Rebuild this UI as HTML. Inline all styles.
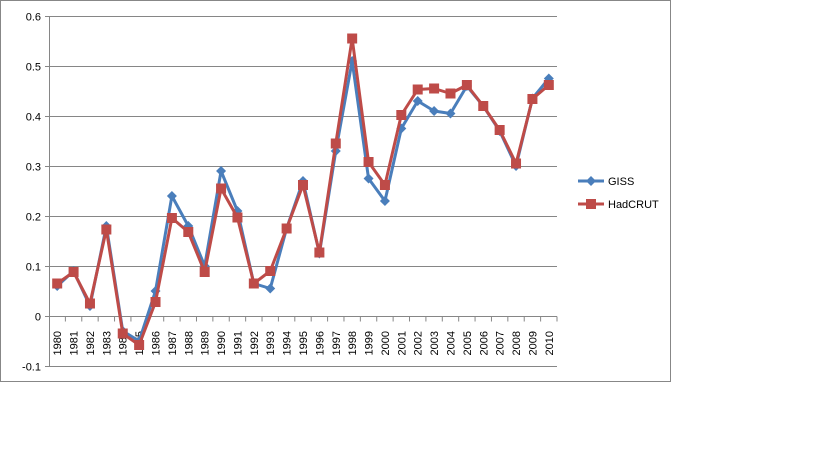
<!DOCTYPE html>
<html><head><meta charset="utf-8"><style>
body{margin:0;background:#fff;font-family:"Liberation Sans",sans-serif;}
svg text{font-family:"Liberation Sans",sans-serif;font-size:11px;fill:#000;}
</style></head><body>
<svg id="chart" width="819" height="460">
<rect x="0.5" y="0.5" width="670" height="381" fill="#fff" stroke="#878787"/>
<g id="grid"></g><g id="axes"></g><g id="series"></g>
<g>
 <g>
  <line x1="578" y1="181" x2="604" y2="181" stroke="#4A7EBB" stroke-width="3"/>
  <path d="M591 176 L596 181 L591 186 L586 181Z" fill="#4A7EBB"/>
  <text x="608" y="185">GISS</text></g>
 <g>
  <line x1="578" y1="204" x2="604" y2="204" stroke="#BE4B48" stroke-width="3"/>
  <rect x="586" y="199" width="10" height="10" fill="#BE4B48"/>
  <text x="608" y="208">HadCRUT</text></g>
</g>
</svg>
<script>
const years=[1980,1981,1982,1983,1984,1985,1986,1987,1988,1989,1990,1991,1992,1993,1994,1995,1996,1997,1998,1999,2000,2001,2002,2003,2004,2005,2006,2007,2008,2009,2010];
const giss=[0.06,0.09,0.02,0.18,-0.03,-0.05,0.05,0.24,0.18,0.10,0.29,0.21,0.065,0.055,0.175,0.27,0.125,0.33,0.51,0.275,0.23,0.375,0.43,0.41,0.405,0.46,0.42,0.37,0.30,0.435,0.475];
const hadcrut=[0.065,0.088,0.025,0.173,-0.035,-0.058,0.028,0.196,0.168,0.088,0.255,0.197,0.065,0.09,0.175,0.262,0.127,0.345,0.555,0.308,0.262,0.402,0.453,0.455,0.445,0.462,0.42,0.372,0.305,0.434,0.462];
const yTicks=[-0.1,0,0.1,0.2,0.3,0.4,0.5,0.6];
const NS='http://www.w3.org/2000/svg';
const L=49,R=557,T=16,B=366,ymin=-0.1,ymax=0.6;
const step=(R-L)/years.length;
const xs=i=>L+step*(i+0.5);
const ys=v=>B-(v-ymin)/(ymax-ymin)*(B-T);
function mk(tag,attrs,parent){const e=document.createElementNS(NS,tag);for(const k in attrs)e.setAttribute(k,attrs[k]);parent.appendChild(e);return e;}
const grid=document.getElementById('grid'),axes=document.getElementById('axes'),ser=document.getElementById('series');
yTicks.forEach(t=>{
 const y=Math.round(ys(t))+0.5;
 if(t!==ymin){const g=mk('line',{x1:L,x2:R,y1:y,y2:y,stroke:'#868686'},grid);
 
 }
 mk('line',{x1:L-4,x2:L,y1:y,y2:y,stroke:'#868686'},axes);
 const tx=mk('text',{x:L-8,y:y+4,'text-anchor':'end'},axes);tx.textContent=t===0?'0':String(t);
 
 
});
mk('line',{x1:L+0.5,x2:L+0.5,y1:T,y2:B,stroke:'#868686'},axes);
mk('line',{x1:L,x2:R,y1:B+0.5,y2:B+0.5,stroke:'#868686'},axes);
const y0=Math.round(ys(0))+0.5;
years.forEach((yr,i)=>{
 const x=L+step*(i+1);
 mk('line',{x1:x,x2:x,y1:y0,y2:y0+5,stroke:'#868686'},axes);
 const tx=mk('text',{transform:`translate(${xs(i)+4},${y0+39}) rotate(-90)`},axes);tx.textContent=yr;
 
 
});
function draw(vals,color,marker,name){
 const pts=vals.map((v,i)=>xs(i)+','+ys(v)).join(' ');
 const pl=mk('polyline',{points:pts,fill:'none',stroke:color,'stroke-width':3,'stroke-linejoin':'round'},ser);
 
 
 vals.forEach((v,i)=>{const x=xs(i),y=ys(v);let m;
  if(marker==='d')m=mk('path',{d:`M${x} ${y-5}L${x+5} ${y}L${x} ${y+5}L${x-5} ${y}Z`,fill:color},ser);
  else m=mk('rect',{x:x-5,y:y-5,width:10,height:10,fill:color},ser);
  
  });
}
draw(giss,'#4A7EBB','d','giss');
draw(hadcrut,'#BE4B48','s','hadcrut');
</script>
</body></html>
